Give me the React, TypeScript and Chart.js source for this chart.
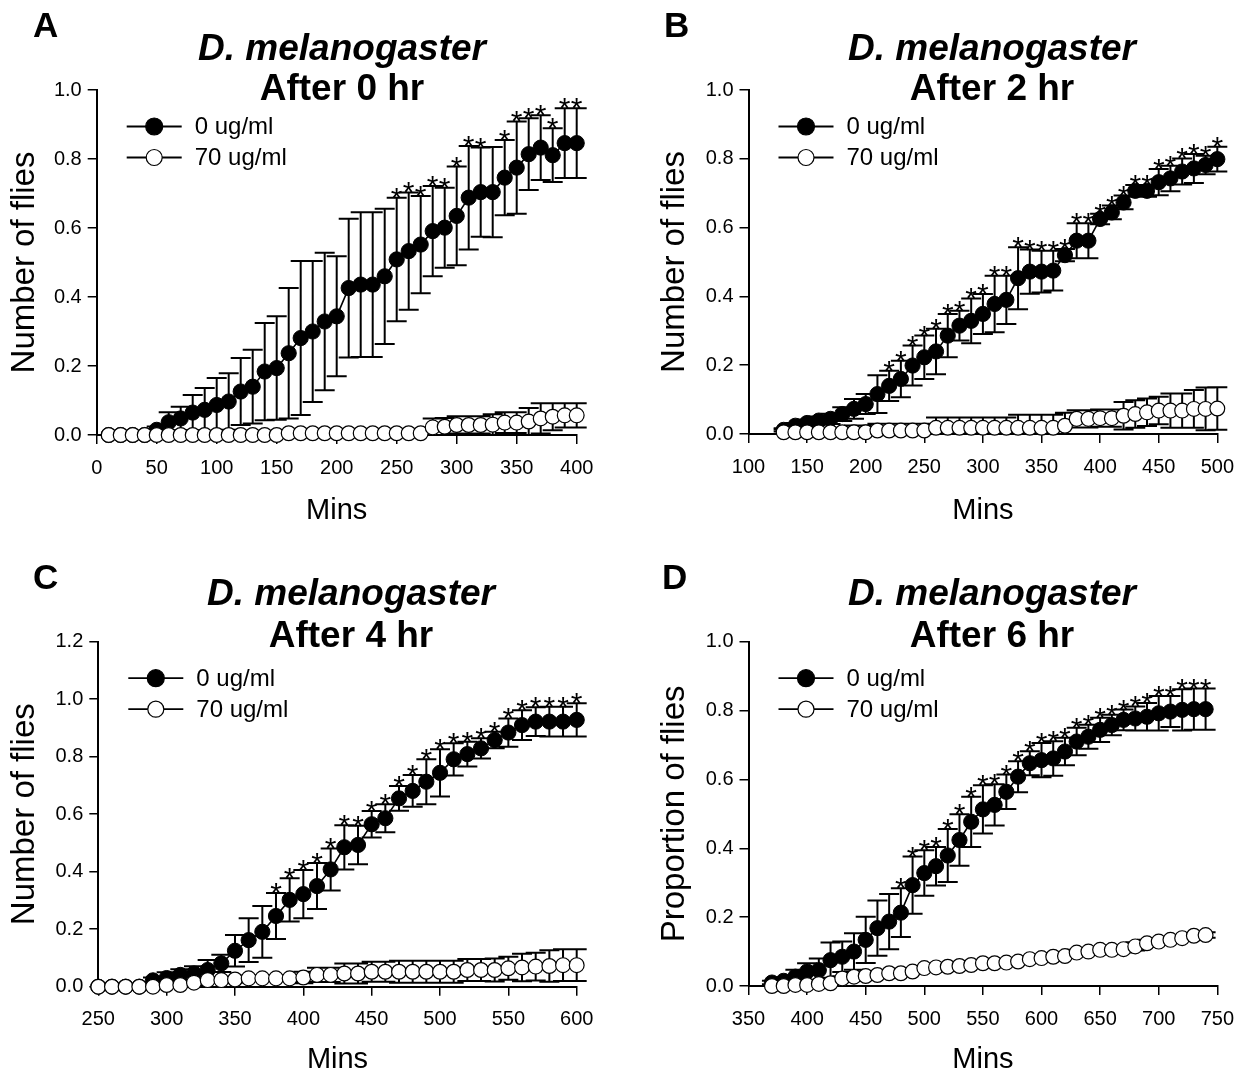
import React, { useEffect, useRef } from 'react';
import { Chart, registerables } from 'chart.js';

Chart.register(...registerables);

const FONT = "'Liberation Sans', Arial, Helvetica, sans-serif";

// ---------- Panel A : After 0 hr ----------
const timesA = [10, 20, 30, 40, 50, 60, 70, 80, 90, 100, 110, 120, 130, 140, 150, 160, 170, 180, 190, 200, 210, 220, 230, 240, 250, 260, 270, 280, 290, 300, 310, 320, 330, 340, 350, 360, 370, 380, 390, 400];
const controlA = [0, 0, 0, 0, 0.015, 0.037, 0.048, 0.065, 0.073, 0.087, 0.097, 0.126, 0.14, 0.184, 0.194, 0.237, 0.281, 0.3, 0.329, 0.344, 0.426, 0.436, 0.436, 0.46, 0.509, 0.533, 0.552, 0.591, 0.601, 0.635, 0.688, 0.704, 0.704, 0.746, 0.775, 0.814, 0.833, 0.811, 0.846, 0.846];
const controlErrA = [0, 0, 0, 0, 0.01, 0.029, 0.034, 0.051, 0.063, 0.078, 0.082, 0.097, 0.107, 0.141, 0.15, 0.189, 0.223, 0.204, 0.199, 0.174, 0.201, 0.21, 0.21, 0.196, 0.179, 0.17, 0.141, 0.131, 0.116, 0.143, 0.15, 0.129, 0.131, 0.109, 0.134, 0.104, 0.094, 0.078, 0.101, 0.101];
const treatedA = [0, 0, 0, 0, 0, 0, 0, 0, 0, 0, 0, 0, 0, 0, 0, 0.005, 0.005, 0.005, 0.005, 0.005, 0.005, 0.005, 0.005, 0.005, 0.005, 0.005, 0.005, 0.022, 0.024, 0.029, 0.029, 0.029, 0.03, 0.036, 0.036, 0.039, 0.048, 0.053, 0.057, 0.057];
const treatedErrA = [0, 0, 0, 0, 0, 0, 0, 0, 0, 0, 0, 0, 0, 0, 0, 0.004, 0.004, 0.004, 0.004, 0.004, 0.004, 0.004, 0.004, 0.004, 0.004, 0.004, 0.004, 0.026, 0.025, 0.025, 0.025, 0.025, 0.03, 0.03, 0.03, 0.039, 0.044, 0.039, 0.035, 0.035];
const sigA = [250, 260, 270, 280, 290, 300, 310, 320, 340, 350, 360, 370, 380, 390, 400];

// ---------- Panel B : After 2 hr ----------
const timesB = [130, 140, 150, 160, 170, 180, 190, 200, 210, 220, 230, 240, 250, 260, 270, 280, 290, 300, 310, 320, 330, 340, 350, 360, 370, 380, 390, 400, 410, 420, 430, 440, 450, 460, 470, 480, 490, 500];
const controlB = [0.012, 0.024, 0.032, 0.039, 0.044, 0.058, 0.073, 0.087, 0.116, 0.14, 0.16, 0.199, 0.223, 0.24, 0.286, 0.315, 0.329, 0.349, 0.378, 0.39, 0.453, 0.472, 0.472, 0.475, 0.52, 0.562, 0.562, 0.625, 0.644, 0.673, 0.707, 0.707, 0.732, 0.743, 0.763, 0.772, 0.782, 0.799];
const controlErrB = [0.005, 0.008, 0.01, 0.012, 0.015, 0.02, 0.029, 0.029, 0.055, 0.044, 0.053, 0.058, 0.063, 0.066, 0.063, 0.043, 0.065, 0.058, 0.082, 0.07, 0.09, 0.064, 0.061, 0.058, 0.018, 0.051, 0.051, 0.015, 0.02, 0.02, 0.017, 0.017, 0.038, 0.037, 0.038, 0.042, 0.027, 0.036];
const treatedB = [0.005, 0.005, 0.005, 0.005, 0.005, 0.005, 0.005, 0.005, 0.01, 0.01, 0.01, 0.01, 0.01, 0.018, 0.018, 0.018, 0.018, 0.018, 0.018, 0.018, 0.018, 0.018, 0.018, 0.018, 0.024, 0.044, 0.044, 0.046, 0.046, 0.053, 0.058, 0.063, 0.068, 0.068, 0.068, 0.073, 0.073, 0.074];
const treatedErrB = [0.008, 0.008, 0.008, 0.008, 0.008, 0.008, 0.02, 0.02, 0.02, 0.02, 0.02, 0.02, 0.02, 0.03, 0.03, 0.03, 0.03, 0.03, 0.03, 0.03, 0.038, 0.038, 0.038, 0.038, 0.038, 0.025, 0.025, 0.025, 0.025, 0.04, 0.04, 0.04, 0.04, 0.05, 0.05, 0.055, 0.062, 0.062];
const sigB = [220, 230, 240, 250, 260, 270, 280, 290, 300, 310, 320, 330, 340, 350, 360, 370, 380, 390, 400, 410, 420, 430, 440, 450, 460, 470, 480, 490, 500];

// ---------- Panel C : After 4 hr ----------
const timesC = [250, 260, 270, 280, 290, 300, 310, 320, 330, 340, 350, 360, 370, 380, 390, 400, 410, 420, 430, 440, 450, 460, 470, 480, 490, 500, 510, 520, 530, 540, 550, 560, 570, 580, 590, 600];
const controlC = [0, 0, 0, 0, 0.022, 0.03, 0.041, 0.046, 0.058, 0.081, 0.125, 0.162, 0.191, 0.246, 0.302, 0.322, 0.35, 0.408, 0.485, 0.493, 0.565, 0.586, 0.655, 0.681, 0.713, 0.744, 0.791, 0.809, 0.829, 0.858, 0.884, 0.91, 0.922, 0.922, 0.922, 0.928];
const controlErrC = [0, 0, 0, 0, 0.01, 0.02, 0.02, 0.025, 0.035, 0.03, 0.055, 0.076, 0.09, 0.08, 0.075, 0.084, 0.08, 0.073, 0.077, 0.067, 0.046, 0.049, 0.043, 0.055, 0.078, 0.082, 0.056, 0.043, 0.035, 0.029, 0.049, 0.052, 0.05, 0.052, 0.052, 0.058];
const treatedC = [0, 0, 0, 0, 0, 0.006, 0.006, 0.014, 0.023, 0.023, 0.025, 0.029, 0.029, 0.029, 0.029, 0.032, 0.041, 0.041, 0.046, 0.046, 0.052, 0.052, 0.052, 0.052, 0.052, 0.052, 0.052, 0.058, 0.058, 0.058, 0.064, 0.067, 0.07, 0.072, 0.075, 0.075];
const treatedErrC = [0, 0, 0, 0, 0, 0.01, 0.01, 0.01, 0.01, 0.01, 0.01, 0.01, 0.01, 0.01, 0.01, 0.02, 0.025, 0.025, 0.035, 0.035, 0.035, 0.035, 0.038, 0.038, 0.038, 0.038, 0.038, 0.038, 0.038, 0.04, 0.04, 0.048, 0.048, 0.055, 0.055, 0.055];
const sigC = [380, 390, 400, 410, 420, 430, 440, 450, 460, 470, 480, 490, 500, 510, 520, 530, 540, 550, 560, 570, 580, 590, 600];

// ---------- Panel D : After 6 hr ----------
const timesD = [370, 380, 390, 400, 410, 420, 430, 440, 450, 460, 470, 480, 490, 500, 510, 520, 530, 540, 550, 560, 570, 580, 590, 600, 610, 620, 630, 640, 650, 660, 670, 680, 690, 700, 710, 720, 730, 740];
const controlD = [0.01, 0.015, 0.027, 0.042, 0.046, 0.075, 0.085, 0.1, 0.134, 0.168, 0.187, 0.213, 0.293, 0.328, 0.348, 0.379, 0.424, 0.477, 0.513, 0.526, 0.564, 0.608, 0.647, 0.656, 0.661, 0.681, 0.71, 0.724, 0.744, 0.758, 0.773, 0.777, 0.782, 0.792, 0.797, 0.802, 0.804, 0.804];
const controlErrD = [0.005, 0.01, 0.02, 0.024, 0.034, 0.051, 0.044, 0.053, 0.067, 0.08, 0.08, 0.071, 0.083, 0.066, 0.056, 0.077, 0.075, 0.073, 0.07, 0.06, 0.05, 0.045, 0.035, 0.05, 0.05, 0.04, 0.04, 0.035, 0.035, 0.03, 0.03, 0.035, 0.04, 0.05, 0.045, 0.06, 0.06, 0.06];
const treatedD = [0, 0, 0.003, 0.003, 0.006, 0.008, 0.022, 0.027, 0.029, 0.032, 0.037, 0.037, 0.042, 0.052, 0.054, 0.056, 0.058, 0.061, 0.066, 0.066, 0.068, 0.071, 0.078, 0.081, 0.085, 0.087, 0.097, 0.1, 0.105, 0.105, 0.107, 0.115, 0.124, 0.129, 0.134, 0.139, 0.146, 0.148];
const treatedErrD = [0, 0, 0.004, 0.004, 0.004, 0.005, 0.006, 0.006, 0.006, 0.006, 0.006, 0.006, 0.006, 0.006, 0.006, 0.006, 0.006, 0.006, 0.006, 0.006, 0.006, 0.006, 0.006, 0.006, 0.006, 0.006, 0.008, 0.008, 0.008, 0.008, 0.01, 0.012, 0.01, 0.008, 0.008, 0.008, 0.008, 0.008];
const sigD = [480, 490, 500, 510, 520, 530, 540, 550, 560, 570, 580, 590, 600, 610, 620, 630, 640, 650, 660, 670, 680, 690, 700, 710, 720, 730, 740];

const legendLabels = ['0 ug/ml', '70 ug/ml'];
const speciesTitle = 'D. melanogaster';
const xTitle = 'Mins';

const CW = 623;
const CH = 537;
const Y_W = 60;
const X_H = 40;

type Panel = {
  letter: string;
  left: number;
  top: number;
  area: { l: number; r: number; t: number; b: number };
  xMin: number;
  xMax: number;
  yMax: number;
  times: number[];
  control: number[];
  controlErr: number[];
  treated: number[];
  treatedErr: number[];
  sig: number[];
  subtitle: string;
  yTitle: string;
  letterPos: [number, number];
  titleX: number;
  titleY: [number, number];
  yTitleX: number;
  xTitleY: number;
};

const panels: Panel[] = [
  {
    letter: 'A', left: 0, top: 0,
    area: { l: 96.7, r: 576.7, t: 90, b: 435 },
    xMin: 0, xMax: 400, yMax: 1.0,
    times: timesA, control: controlA, controlErr: controlErrA, treated: treatedA, treatedErr: treatedErrA, sig: sigA,
    subtitle: 'After 0 hr', yTitle: 'Number of flies',
    letterPos: [33, 37], titleX: 342, titleY: [60, 100], yTitleX: 34, xTitleY: 519,
  },
  {
    letter: 'B', left: 623, top: 0,
    area: { l: 125.5, r: 603.7, t: 90, b: 434 },
    xMin: 100, xMax: 500, yMax: 1.0,
    times: timesB, control: controlB, controlErr: controlErrB, treated: treatedB, treatedErr: treatedErrB, sig: sigB,
    subtitle: 'After 2 hr', yTitle: 'Number of flies',
    letterPos: [41, 37], titleX: 369, titleY: [60, 100], yTitleX: 61, xTitleY: 519,
  },
  {
    letter: 'C', left: 0, top: 537,
    area: { l: 98.3, r: 576.7, t: 104.7, b: 449.7 },
    xMin: 250, xMax: 600, yMax: 1.2,
    times: timesC, control: controlC, controlErr: controlErrC, treated: treatedC, treatedErr: treatedErrC, sig: sigC,
    subtitle: 'After 4 hr', yTitle: 'Number of flies',
    letterPos: [33, 52], titleX: 351, titleY: [68, 110], yTitleX: 34, xTitleY: 531,
  },
  {
    letter: 'D', left: 623, top: 537,
    area: { l: 125.5, r: 603.7, t: 104.7, b: 449 },
    xMin: 350, xMax: 750, yMax: 1.0,
    times: timesD, control: controlD, controlErr: controlErrD, treated: treatedD, treatedErr: treatedErrD, sig: sigD,
    subtitle: 'After 6 hr', yTitle: 'Proportion of flies',
    letterPos: [39, 52], titleX: 369, titleY: [68, 110], yTitleX: 61, xTitleY: 531,
  },
];

function drawErrorBars(chart: any, times: number[], vals: number[], errs: number[]) {
  const ctx = chart.ctx;
  const xs = chart.scales.x;
  const ys = chart.scales.y;
  const bottom = chart.chartArea.bottom;
  ctx.save();
  ctx.strokeStyle = '#000';
  ctx.lineWidth = 2;
  ctx.beginPath();
  for (let i = 0; i < times.length; i++) {
    const e = errs[i];
    if (!e) continue;
    const x = xs.getPixelForValue(times[i]);
    const yTop = ys.getPixelForValue(vals[i] + e);
    const lo = vals[i] - e;
    const yBot = Math.min(bottom, ys.getPixelForValue(Math.max(0, lo)));
    ctx.moveTo(x, yTop);
    ctx.lineTo(x, yBot);
    ctx.moveTo(x - 10, yTop);
    ctx.lineTo(x + 10, yTop);
    if (lo > 0) {
      ctx.moveTo(x - 10, yBot);
      ctx.lineTo(x + 10, yBot);
    }
  }
  ctx.stroke();
  ctx.restore();
}

function makeDecor(p: Panel) {
  return {
    id: 'decor' + p.letter,
    beforeDatasetDraw(chart: any, args: any) {
      if (args.index === 1) drawErrorBars(chart, p.times, p.control, p.controlErr);
      else drawErrorBars(chart, p.times, p.treated, p.treatedErr);
    },
    afterDatasetsDraw(chart: any) {
      const ctx = chart.ctx;
      const xs = chart.scales.x;
      const ys = chart.scales.y;
      ctx.save();
      ctx.fillStyle = '#000';
      ctx.font = `30px ${FONT}`;
      ctx.textAlign = 'center';
      ctx.textBaseline = 'alphabetic';
      p.sig.forEach((t) => {
        const i = p.times.indexOf(t);
        if (i < 0) return;
        const x = xs.getPixelForValue(t);
        const y = ys.getPixelForValue(p.control[i] + p.controlErr[i]);
        ctx.fillText('*', x, y + 10);
      });
      ctx.restore();
    },
    afterDraw(chart: any) {
      const ctx = chart.ctx;
      const a = chart.chartArea;
      ctx.save();
      ctx.fillStyle = '#000';
      // panel letter
      ctx.font = `bold 35px ${FONT}`;
      ctx.textAlign = 'left';
      ctx.textBaseline = 'alphabetic';
      ctx.fillText(p.letter, p.letterPos[0], p.letterPos[1]);
      // titles
      ctx.textAlign = 'center';
      ctx.font = `italic bold 37px ${FONT}`;
      ctx.fillText(speciesTitle, p.titleX, p.titleY[0]);
      ctx.font = `bold 37px ${FONT}`;
      ctx.fillText(p.subtitle, p.titleX, p.titleY[1]);
      // x title
      ctx.font = `29px ${FONT}`;
      ctx.fillText(xTitle, (a.left + a.right) / 2, p.xTitleY);
      // y title
      ctx.save();
      ctx.translate(p.yTitleX, (a.top + a.bottom) / 2);
      ctx.rotate(-Math.PI / 2);
      ctx.font = `33px ${FONT}`;
      ctx.fillText(p.yTitle, 0, 0);
      ctx.restore();
      // legend
      const lx0 = a.left + 30;
      const lx1 = a.left + 85;
      const cx = (lx0 + lx1) / 2;
      const rows = [a.top + 36.5, a.top + 67.5];
      rows.forEach((ry, k) => {
        ctx.strokeStyle = '#000';
        ctx.lineWidth = 1.8;
        ctx.beginPath();
        ctx.moveTo(lx0, ry);
        ctx.lineTo(lx1, ry);
        ctx.stroke();
        ctx.beginPath();
        ctx.arc(cx, ry, k === 0 ? 8.5 : 8, 0, Math.PI * 2);
        ctx.fillStyle = k === 0 ? '#000' : '#fff';
        ctx.fill();
        ctx.lineWidth = 1.2;
        ctx.stroke();
        ctx.fillStyle = '#000';
        ctx.font = `24px ${FONT}`;
        ctx.textAlign = 'left';
        ctx.textBaseline = 'middle';
        ctx.fillText(legendLabels[k], a.left + 98, ry + 1);
      });
      ctx.restore();
    },
  };
}

function PanelChart({ p }: { p: Panel }) {
  const ref = useRef<HTMLCanvasElement>(null);
  useEffect(() => {
    const canvas = ref.current;
    if (!canvas) return;
    const tickFont = { family: FONT, size: 20 };
    const chart = new Chart(canvas, {
      type: 'line',
      data: {
        datasets: [
          {
            label: legendLabels[1],
            data: p.times.map((t, i) => ({ x: t, y: p.treated[i] })),
            borderColor: '#000',
            borderWidth: 1.6,
            pointRadius: 7.4,
            pointBackgroundColor: '#fff',
            pointBorderColor: '#000',
            pointBorderWidth: 1.2,
            clip: false as any,
          },
          {
            label: legendLabels[0],
            data: p.times.map((t, i) => ({ x: t, y: p.control[i] })),
            borderColor: '#000',
            borderWidth: 1.6,
            pointRadius: 7.6,
            pointBackgroundColor: '#000',
            pointBorderColor: '#000',
            pointBorderWidth: 1,
            clip: false as any,
          },
        ],
      },
      options: {
        responsive: false,
        animation: false,
        devicePixelRatio: 1,
        layout: {
          padding: {
            left: p.area.l - Y_W,
            right: CW - p.area.r,
            top: p.area.t,
            bottom: CH - p.area.b - X_H,
          },
        },
        elements: { line: { tension: 0 } },
        plugins: {
          legend: { display: false },
          tooltip: { enabled: false },
          title: { display: false },
        },
        scales: {
          x: {
            type: 'linear',
            min: p.xMin,
            max: p.xMax,
            afterFit: (s: any) => { s.height = X_H; },
            ticks: { stepSize: 50, font: tickFont, color: '#000', padding: 12, maxRotation: 0, autoSkip: false },
            grid: { display: true, drawOnChartArea: false, drawTicks: true, tickLength: 9, color: '#000', lineWidth: 1.5 },
            border: { display: true, color: '#000', width: 2 },
          },
          y: {
            type: 'linear',
            min: 0,
            max: p.yMax,
            afterFit: (s: any) => { s.width = Y_W; },
            ticks: {
              stepSize: 0.2,
              font: tickFont,
              color: '#000',
              padding: 6,
              callback: (v: any) => Number(v).toFixed(1),
            },
            grid: { display: true, drawOnChartArea: false, drawTicks: true, tickLength: 9, color: '#000', lineWidth: 1.5 },
            border: { display: true, color: '#000', width: 2 },
          },
        },
      } as any,
      plugins: [makeDecor(p)],
    });
    return () => chart.destroy();
  }, [p]);
  return (
    <canvas
      ref={ref}
      width={CW}
      height={CH}
      style={{ position: 'absolute', left: p.left, top: p.top, width: CW, height: CH }}
    />
  );
}

export default function App() {
  return (
    <div style={{ position: 'absolute', left: 0, top: 0, width: 1246, height: 1074, background: '#fff', overflow: 'hidden' }}>
      {panels.map((p) => (
        <PanelChart key={p.letter} p={p} />
      ))}
    </div>
  );
}
